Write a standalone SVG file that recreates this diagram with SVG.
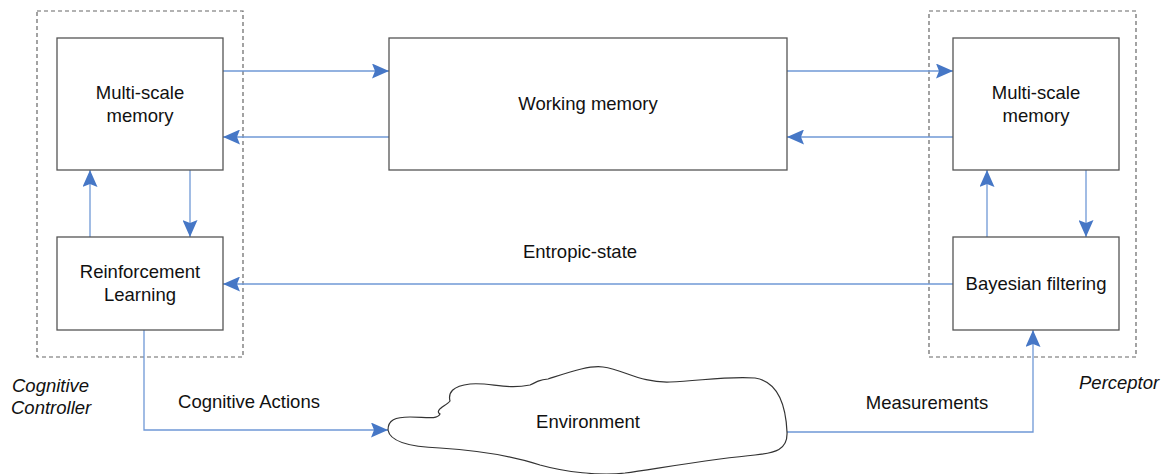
<svg xmlns="http://www.w3.org/2000/svg" width="1167" height="474" viewBox="0 0 1167 474">
  <style>
    .box { fill: #ffffff; stroke: #555555; stroke-width: 1.3; }
    .group { fill: none; stroke: #666666; stroke-width: 1.2; stroke-dasharray: 4 3; }
    .link { fill: none; stroke: #6f98d6; stroke-width: 1.3; }
    .arrow { marker-end: url(#head); }
    text { font-family: "Liberation Sans", Arial, sans-serif; font-size: 18.5px; fill: #111111; text-anchor: middle; }
    .side { font-style: italic; text-anchor: start; }
  </style>
  <defs>
    <marker id="head" viewBox="0 0 17 15" refX="17" refY="7.5" markerWidth="17" markerHeight="15" markerUnits="userSpaceOnUse" orient="auto">
      <path d="M0,0 L17,7.5 L0,15 L3,7.5 z" fill="#4677c6"/>
    </marker>
  </defs>

  <!-- dashed subsystem frames -->
  <rect class="group" x="37" y="11" width="206" height="346"/>
  <rect class="group" x="929" y="11" width="207" height="346"/>
  <text class="side" x="12" y="392">Cognitive</text>
  <text class="side" x="11" y="414">Controller</text>
  <text class="side" x="1079" y="389">Perceptor</text>

  <!-- connectors -->
  <g id="connectors">
    <path class="link arrow" d="M223,71 H389"/>
    <path class="link arrow" d="M389,137 H223"/>
    <path class="link arrow" d="M787,71 H953"/>
    <path class="link arrow" d="M953,137 H787"/>
    <path class="link arrow" d="M90,237 V170"/>
    <path class="link arrow" d="M190,170 V237"/>
    <path class="link arrow" d="M987,237 V170"/>
    <path class="link arrow" d="M1086,170 V237"/>
    <path class="link arrow" d="M953,284 H223"/>
    <path class="link arrow" d="M144,330 V430 H388"/>
    <path class="link arrow" d="M787,432 H1033 V330"/>
    <text x="580" y="258">Entropic-state</text>
    <text x="249" y="408">Cognitive Actions</text>
    <text x="927" y="409">Measurements</text>
  </g>

  <g id="cc-memory">
    <rect class="box" x="57" y="38" width="166" height="132"/>
    <text x="140" y="99">Multi-scale</text>
    <text x="140" y="122">memory</text>
  </g>
  <g id="reinforcement-learning">
    <rect class="box" x="57" y="237" width="166" height="93"/>
    <text x="140" y="278">Reinforcement</text>
    <text x="140" y="301">Learning</text>
  </g>
  <g id="working-memory">
    <rect class="box" x="389" y="38" width="398" height="132"/>
    <text x="588" y="110">Working memory</text>
  </g>
  <g id="p-memory">
    <rect class="box" x="953" y="38" width="166" height="132"/>
    <text x="1036" y="99">Multi-scale</text>
    <text x="1036" y="122">memory</text>
  </g>
  <g id="bayesian-filtering">
    <rect class="box" x="953" y="237" width="166" height="93"/>
    <text x="1036" y="290">Bayesian filtering</text>
  </g>
  <g id="environment">
    <path fill="#ffffff" stroke="#333333" stroke-width="1.2" d="M388,430 C388,420 395,417 410,417 C425,417 437,420 440,414 C434,410 446,406 450,401 C448,393 452,386 470,384 C490,382 505,390 530,385 C538,381 540,380 548,379 C570,372 590,365 603,367 C625,370 640,383 670,382 C700,381 725,376 755,378 C780,382 786,410 787,432 C788,450 775,453 755,455 C720,458 660,468 625,473 C600,476 565,472 540,465 C510,455 470,450 440,448 C410,447 390,442 388,430 Z"/>
    <text x="588" y="428">Environment</text>
  </g>
</svg>
